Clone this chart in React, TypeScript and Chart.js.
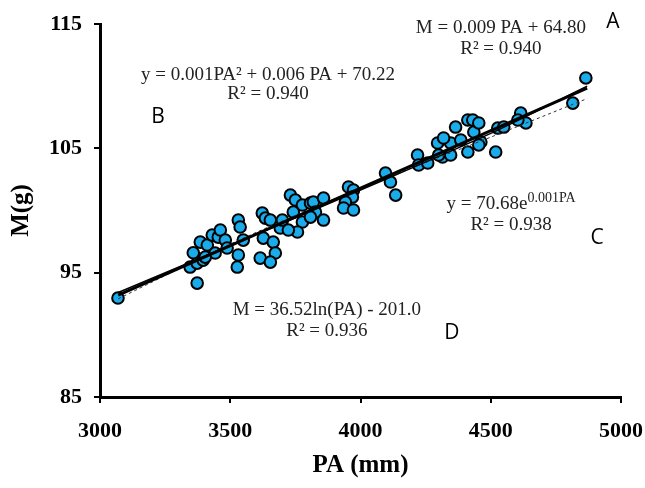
import React, { useEffect, useRef } from "react";
import { Chart, registerables } from "chart.js";

Chart.register(...registerables);

// Observed data points: PA (mm) and M (g)
const paValues = [
  3069, 3373, 3346, 3373, 3396, 3385, 3412, 3431, 3454, 3462, 3481, 3488, 3442, 3404, 3358,
  3531, 3538, 3550, 3531, 3527, 3623, 3635, 3654, 3627, 3665, 3615, 3673, 3654, 3692, 3700,
  3731, 3750, 3777, 3742, 3777, 3758, 3808, 3723, 3819, 3858, 3827, 3858, 3808, 3954, 3973,
  3969, 3942, 3935, 3973, 4096, 4115, 4135, 4219, 4223, 4258, 4296, 4315, 4346, 4346, 4365,
  4385, 4412, 4431, 4435, 4454, 4462, 4454, 4412, 4519, 4527, 4550, 4615, 4635, 4604, 4319,
  4815, 4865, 4300,
];
const mValues = [
  92.96, 94.16, 95.45, 95.77, 96.01, 97.46, 97.22, 98.02, 97.86, 98.43, 97.62, 96.98, 96.58, 96.25, 96.6,
  99.23, 98.67, 97.62, 96.42, 95.45, 99.79, 99.39, 99.23, 97.78, 97.46, 96.17, 96.58, 95.85, 98.59, 99.23,
  101.24, 100.84, 100.44, 99.87, 99.07, 98.27, 100.6, 98.43, 100.68, 101.0, 99.87, 99.23, 99.47, 101.89, 101.64,
  101.08, 100.68, 100.2, 100.04, 103.01, 102.29, 101.24, 104.46, 103.66, 103.82, 105.43, 104.3, 105.43, 104.46, 106.71,
  105.67, 107.28, 107.28, 106.31, 107.04, 105.51, 105.27, 104.7, 104.7, 106.63, 106.71, 107.84, 107.04, 107.28, 105.83,
  108.64, 110.66, 104.46,
];

// Trend lines
const linearPA = [3070, 4870];
const linearM = [93.2, 109.85];
const expPA = [3070, 3500, 4000, 4500, 4870];
const expM = [93.4, 97.2, 101.65, 106.2, 110.0];
const logPA = [3070, 3500, 4000, 4500, 4870];
const logM = [92.9, 97.3, 101.8, 105.9, 109.0];

// Axis ticks
const xTicks = [3000, 3500, 4000, 4500, 5000];
const yTicks = [85, 95, 105, 115];

type Seg = { t: string; sup?: boolean };
type Note = { lines: Seg[][]; x: number; y: number[]; font: string; color: string };

const EQ_FONT = "19px 'Liberation Serif'";
const LETTER_FONT = "21px 'Open Sans'";

const notes: Note[] = [
  { lines: [[{ t: "M = 0.009 PA + 64.80" }], [{ t: "R² = 0.940" }]], x: 4539, y: [114.68, 112.99], font: EQ_FONT, color: "#222" },
  { lines: [[{ t: "A" }]], x: 4969, y: [115.16], font: LETTER_FONT, color: "#000" },
  { lines: [[{ t: "y = 0.001PA² + 0.006 PA + 70.22" }], [{ t: "R² = 0.940" }]], x: 3645, y: [110.9, 109.37], font: EQ_FONT, color: "#222" },
  { lines: [[{ t: "B" }]], x: 3223, y: [107.52], font: LETTER_FONT, color: "#000" },
  { lines: [[{ t: "y = 70.68e" }, { t: "0.001PA", sup: true }], [{ t: "R² = 0.938" }]], x: 4578, y: [100.52, 98.83], font: EQ_FONT, color: "#222" },
  { lines: [[{ t: "C" }]], x: 4908, y: [97.79], font: LETTER_FONT, color: "#000" },
  { lines: [[{ t: "M = 36.52ln(PA) - 201.0" }], [{ t: "R² = 0.936" }]], x: 3871, y: [92.0, 90.31], font: EQ_FONT, color: "#222" },
  { lines: [[{ t: "D" }]], x: 4351, y: [90.15], font: LETTER_FONT, color: "#000" },
];

const SUP_FONT = "14px 'Liberation Serif'";

const notesPlugin = {
  id: "notes",
  afterDatasetsDraw(chart: any) {
    const { ctx, scales } = chart;
    ctx.save();
    ctx.textBaseline = "middle";
    ctx.textAlign = "left";
    for (const n of notes) {
      const cx = scales.x.getPixelForValue(n.x);
      n.lines.forEach((segs, i) => {
        const cy = scales.y.getPixelForValue(n.y[i]);
        let w = 0;
        for (const s of segs) {
          ctx.font = s.sup ? SUP_FONT : n.font;
          w += ctx.measureText(s.t).width;
        }
        let px = cx - w / 2;
        for (const s of segs) {
          ctx.font = s.sup ? SUP_FONT : n.font;
          ctx.fillStyle = n.color;
          ctx.fillText(s.t, px, s.sup ? cy - 6 : cy);
          px += ctx.measureText(s.t).width;
        }
      });
    }
    ctx.restore();
  },
};

export default function App() {
  const ref = useRef<HTMLCanvasElement | null>(null);

  useEffect(() => {
    if (!ref.current) return;
    const pts = paValues.map((v, i) => ({ x: v, y: mValues[i] }));
    const lin = linearPA.map((v, i) => ({ x: v, y: linearM[i] }));
    const ex = expPA.map((v, i) => ({ x: v, y: expM[i] }));
    const lg = logPA.map((v, i) => ({ x: v, y: logM[i] }));
    const tickFont = { family: "'Liberation Serif'", size: 22, weight: "bold" as const };
    const titleFont = { family: "'Liberation Serif'", size: 25, weight: "bold" as const };

    const chart = new Chart(ref.current, {
      type: "scatter",
      data: {
        datasets: [
          {
            label: "M",
            data: pts,
            backgroundColor: "#1AACEA",
            borderColor: "#000",
            borderWidth: 2,
            pointRadius: 5.8,
            order: 10,
          },
          {
            label: "linear",
            data: lin,
            showLine: true,
            borderColor: "#000",
            borderWidth: 3,
            pointRadius: 0,
            order: 2,
          },
          {
            label: "exp",
            data: ex,
            showLine: true,
            borderColor: "#000",
            borderWidth: 1.5,
            pointRadius: 0,
            tension: 0.3,
            order: 2,
          },
          {
            label: "log",
            data: lg,
            showLine: true,
            borderColor: "#333",
            borderWidth: 1,
            borderDash: [3, 3],
            pointRadius: 0,
            tension: 0.3,
            order: 3,
          },
        ],
      },
      options: {
        animation: false,
        responsive: false,
        devicePixelRatio: 1,
        layout: { padding: { top: 24, right: 24, left: 0, bottom: 0 } },
        plugins: { legend: { display: false }, tooltip: { enabled: false } },
        scales: {
          x: {
            type: "linear",
            min: 3000,
            max: 5000,
            afterFit: (s: any) => {
              s.height = 91;
              s.paddingLeft = 0;
              s.paddingRight = 0;
            },
            afterBuildTicks: (s: any) => {
              s.ticks = xTicks.map((v) => ({ value: v }));
            },
            ticks: { font: tickFont, color: "#000", padding: 15, callback: (v: any) => String(v) },
            grid: { drawOnChartArea: false, drawTicks: true, tickLength: 6, color: "#000", lineWidth: 2 },
            border: { display: true, color: "#000", width: 3 },
            title: { display: true, text: "PA (mm)", font: titleFont, color: "#000", padding: { top: 0, bottom: 7 } },
          },
          y: {
            type: "linear",
            min: 85,
            max: 115,
            afterFit: (s: any) => {
              s.width = 100;
              s.paddingTop = 0;
              s.paddingBottom = 0;
            },
            afterBuildTicks: (s: any) => {
              s.ticks = yTicks.map((v) => ({ value: v }));
            },
            ticks: { font: tickFont, color: "#000", padding: 12, callback: (v: any) => String(v) },
            grid: { drawOnChartArea: false, drawTicks: true, tickLength: 6, color: "#000", lineWidth: 2 },
            border: { display: true, color: "#000", width: 3 },
            title: { display: true, text: "M(g)", font: titleFont, color: "#000", padding: { top: 7, bottom: 0 } },
          },
        },
      },
      plugins: [notesPlugin],
    });
    return () => chart.destroy();
  }, []);

  return (
    <div style={{ position: "fixed", left: 0, top: 0, width: 645, height: 488, background: "#fff" }}>
      <canvas ref={ref} width={645} height={488} />
    </div>
  );
}
